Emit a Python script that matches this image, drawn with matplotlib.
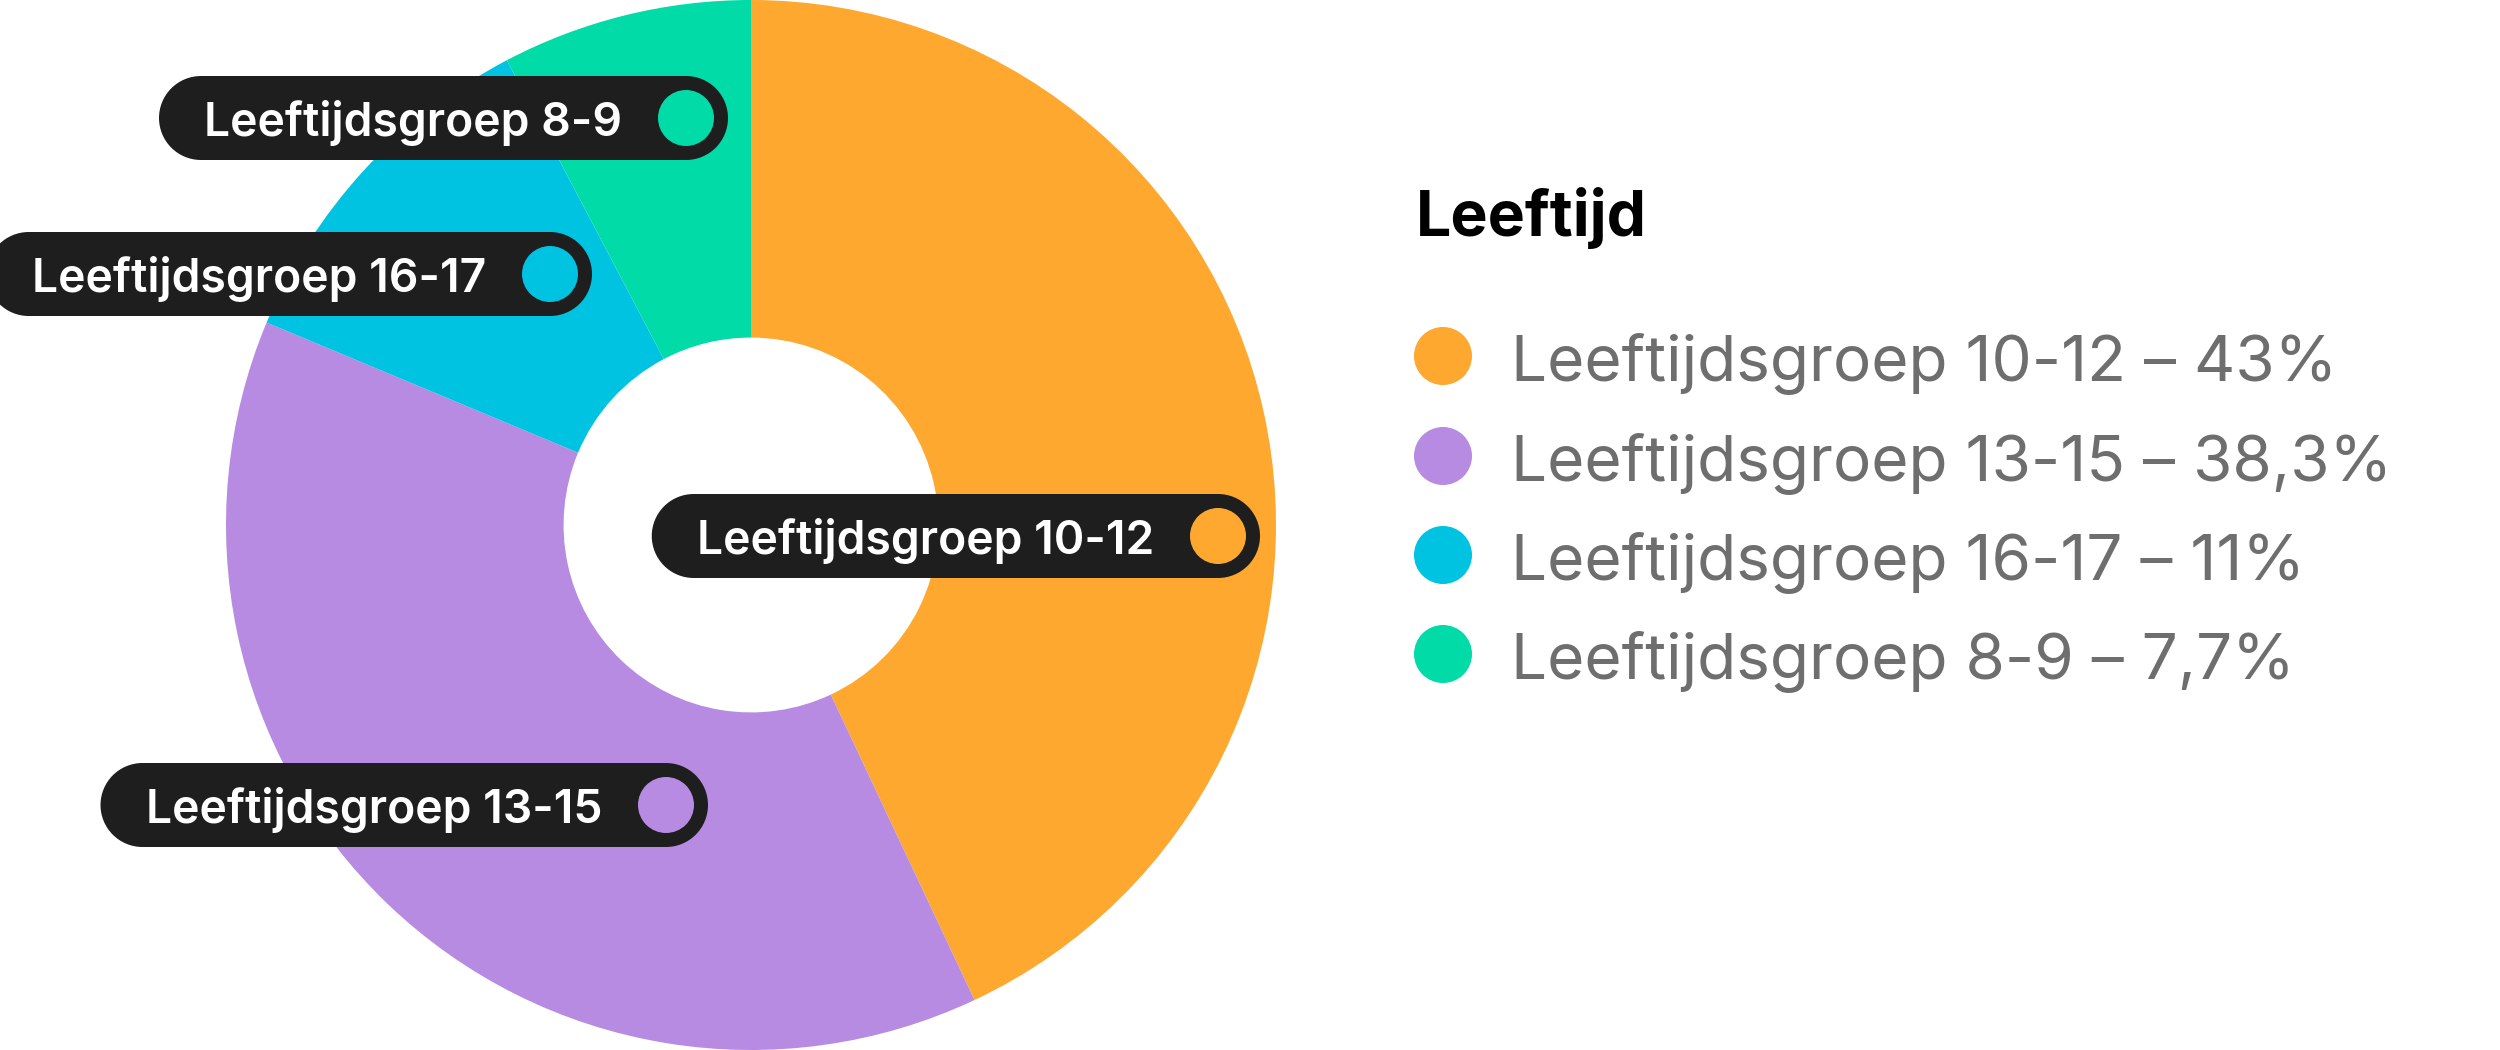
import matplotlib
matplotlib.use("Agg")
import matplotlib.pyplot as plt
from matplotlib.patches import Rectangle, Circle

# ---- data ----
categories = ["Leeftijdsgroep 10-12", "Leeftijdsgroep 13-15",
              "Leeftijdsgroep 16-17", "Leeftijdsgroep 8-9"]
values = [43, 38.3, 11, 7.7]
colors = ["#FEA82F", "#B68BE1", "#00C3E2", "#00DBA7"]
legend_title = "Leeftijd"

plt.rcParams['font.family'] = ['Inter', 'DejaVu Sans']

W, H = 2500, 1050
fig = plt.figure(figsize=(25, 10.5), dpi=100)
fig.patch.set_facecolor("white")

# donut
cx, cy, R = 751, 525, 525
ax = fig.add_axes([(cx - R) / W, (H - cy - R) / H, 2 * R / W, 2 * R / H])
ax.pie(values, colors=colors, startangle=90, counterclock=False, radius=1,
       wedgeprops=dict(width=1 - 0.357, linewidth=0))
ax.set_xlim(-1, 1)
ax.set_ylim(-1, 1)
ax.set_aspect('equal')
ax.axis('off')

# overlay in pixel units
ov = fig.add_axes([0, 0, 1, 1])
ov.set_xlim(0, W)
ov.set_ylim(H, 0)
ov.axis('off')

# label pill positions (circle centre x, centre y), per category
pill_cx = [1218, 666, 550, 686]
pill_cy = [536, 805, 274, 118]
dark = "#1E1E1E"
lab_fs = 33.3
cap_lab = 36
ph = 42  # half height of pill

fig.canvas.draw()
renderer = fig.canvas.get_renderer()
for cat, col, px, py in zip(categories, colors, pill_cx, pill_cy):
    t = ov.text(px - 64, py + cap_lab / 2, cat, ha='right', va='baseline',
                fontsize=lab_fs, fontweight='semibold', color='white', zorder=5)
    bb = t.get_window_extent(renderer=renderer)
    left = bb.x0 - 45
    right = px + 42
    ov.add_patch(Rectangle((left + ph, py - ph), right - left - 2 * ph, 2 * ph,
                           facecolor=dark, edgecolor='none', zorder=3))
    ov.add_patch(Circle((left + ph, py), ph, facecolor=dark, edgecolor='none', zorder=3))
    ov.add_patch(Circle((right - ph, py), ph, facecolor=dark, edgecolor='none', zorder=3))
    ov.add_patch(Circle((px, py), 28, facecolor=col, edgecolor='none', zorder=4))

# legend
ov.text(1416, 236, legend_title, ha='left', va='baseline', fontsize=45,
        fontweight='bold', color='black')
leg_y = [356, 456, 555, 654]
cap_leg = 48


def fmt(v):
    return ("%g" % v).replace('.', ',')


for cat, v, col, ly in zip(categories, values, colors, leg_y):
    ov.add_patch(Circle((1443, ly), 29, facecolor=col, edgecolor='none'))
    ov.text(1511, ly + cap_leg / 2, f"{cat} – {fmt(v)}%", ha='left', va='baseline',
            fontsize=46, color='#6E6E6E')

fig.savefig("out.png", dpi=100, facecolor="white")
